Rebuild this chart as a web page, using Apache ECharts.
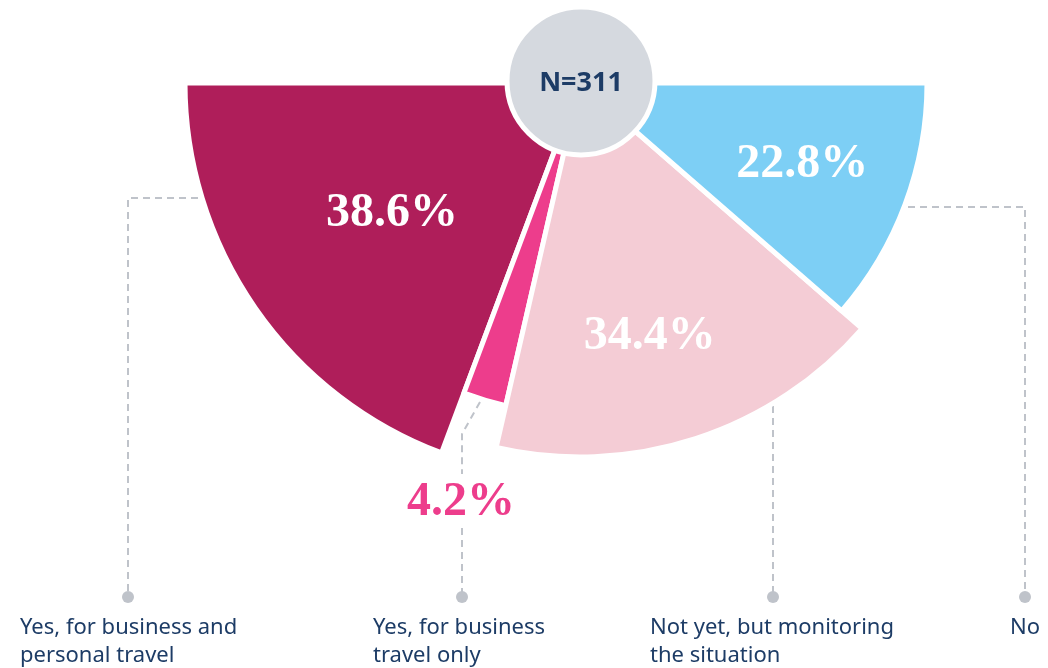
<!DOCTYPE html>
<html>
<head>
<meta charset="utf-8">
<script src="https://cdn.jsdelivr.net/npm/echarts@6/dist/echarts.min.js"></script>
<style>
  html, body { margin: 0; padding: 0; background: #fff; }
  #chart { width: 1048px; height: 668px; }
</style>
</head>
<body>
<div id="chart"></div>
<script>
// data
const categories = [
  'Yes, for business and\npersonal travel',
  'Yes, for business\ntravel only',
  'Not yet, but monitoring\nthe situation',
  'No'
];
const shares = [38.6, 4.2, 34.4, 22.8];
const sampleLabel = 'N=311';

// look
const colors = ['#af1e5a', '#ed3d8c', '#f4ccd5', '#7dcff5'];
const labelColors = ['#ffffff', '#ed3d8c', '#ffffff', '#ffffff'];
const radii = [395, 331, 374, 347];
const labelRadius = [230, 434, 258, 234];
const labelNudge = [[1, 0], [6, 4], [-10, 8], [3, 0]];
const cx = 580, cy = 83;
const navy = '#1d3c66';
const grey = '#bfc3ca';

const total = shares.reduce((a, b) => a + b, 0);

function midAngle(i) {
  let start = 0;
  for (let k = 0; k < i; k++) start += shares[k];
  return (start + shares[i] / 2) / total * Math.PI;
}

function sliceSeries(i) {
  const data = shares.map((v, k) => ({
    name: categories[k],
    value: v,
    itemStyle: k === i
      ? { color: colors[k], borderColor: '#fff', borderWidth: 5 }
      : { color: 'transparent', borderWidth: 0 },
    label: { show: k === i }
  }));
  // filler so the slices only fill the lower half
  data.push({ value: total, itemStyle: { color: 'transparent', borderWidth: 0 }, label: { show: false } });
  return {
    type: 'pie',
    center: [cx, cy],
    radius: [0, radii[i]],
    startAngle: 180,
    clockwise: false,
    silent: true,
    animation: false,
    avoidLabelOverlap: false,
    label: {
      position: 'inside',
      formatter: p => p.value.toFixed(1) + '%',
      color: labelColors[i],
      fontFamily: '"Liberation Serif", serif',
      fontWeight: 'bold',
      fontSize: 48
    },
    labelLine: { show: false },
    labelLayout: function () {
      const a = midAngle(i);
      return {
        x: cx - Math.cos(a) * labelRadius[i] + labelNudge[i][0],
        y: cy + Math.sin(a) * labelRadius[i] + labelNudge[i][1],
        align: 'center',
        verticalAlign: 'middle'
      };
    },
    data: data
  };
}

// leader lines
const leaders = [
  [[198, 198], [128, 198], [128, 597]],
  [[480, 402], [462, 434], [462, 474]],
  [[462, 528], [462, 597]],
  [[773, 406], [773, 597]],
  [[908, 207], [1025, 207], [1025, 597]]
];
const dotX = [128, 462, 773, 1025];
const textX = [20, 373, 650, 1010];

const graphics = [];
leaders.forEach(pts => {
  graphics.push({
    type: 'polyline',
    shape: { points: pts },
    style: { stroke: grey, lineWidth: 2, lineDash: [7, 5], fill: null },
    silent: true
  });
});
dotX.forEach(x => {
  graphics.push({
    type: 'circle',
    shape: { cx: x, cy: 597, r: 6 },
    style: { fill: grey },
    silent: true
  });
});
categories.forEach((c, i) => {
  graphics.push({
    type: 'text',
    x: textX[i],
    y: 614,
    style: {
      text: c,
      fill: navy,
      font: '22px "Noto Sans", sans-serif',
      lineHeight: 28,
      verticalAlign: 'top',
      align: 'left'
    },
    silent: true
  });
});

const chart = echarts.init(document.getElementById('chart'));
chart.setOption({
  backgroundColor: '#ffffff',
  animation: false,
  series: shares.map((_, i) => sliceSeries(i)).concat([{
    type: 'pie',
    center: [cx + 1, cy - 2],
    radius: [0, 74],
    silent: true,
    animation: false,
    itemStyle: { color: '#d5d9df', borderColor: '#fff', borderWidth: 5 },
    label: {
      position: 'center',
      formatter: sampleLabel,
      color: navy,
      fontFamily: '"Noto Sans", sans-serif',
      fontWeight: 'bold',
      fontSize: 27,
      offset: [0, 2]
    },
    labelLine: { show: false },
    data: [{ value: 1, name: sampleLabel }]
  }]),
  graphic: graphics
});
</script>
</body>
</html>
